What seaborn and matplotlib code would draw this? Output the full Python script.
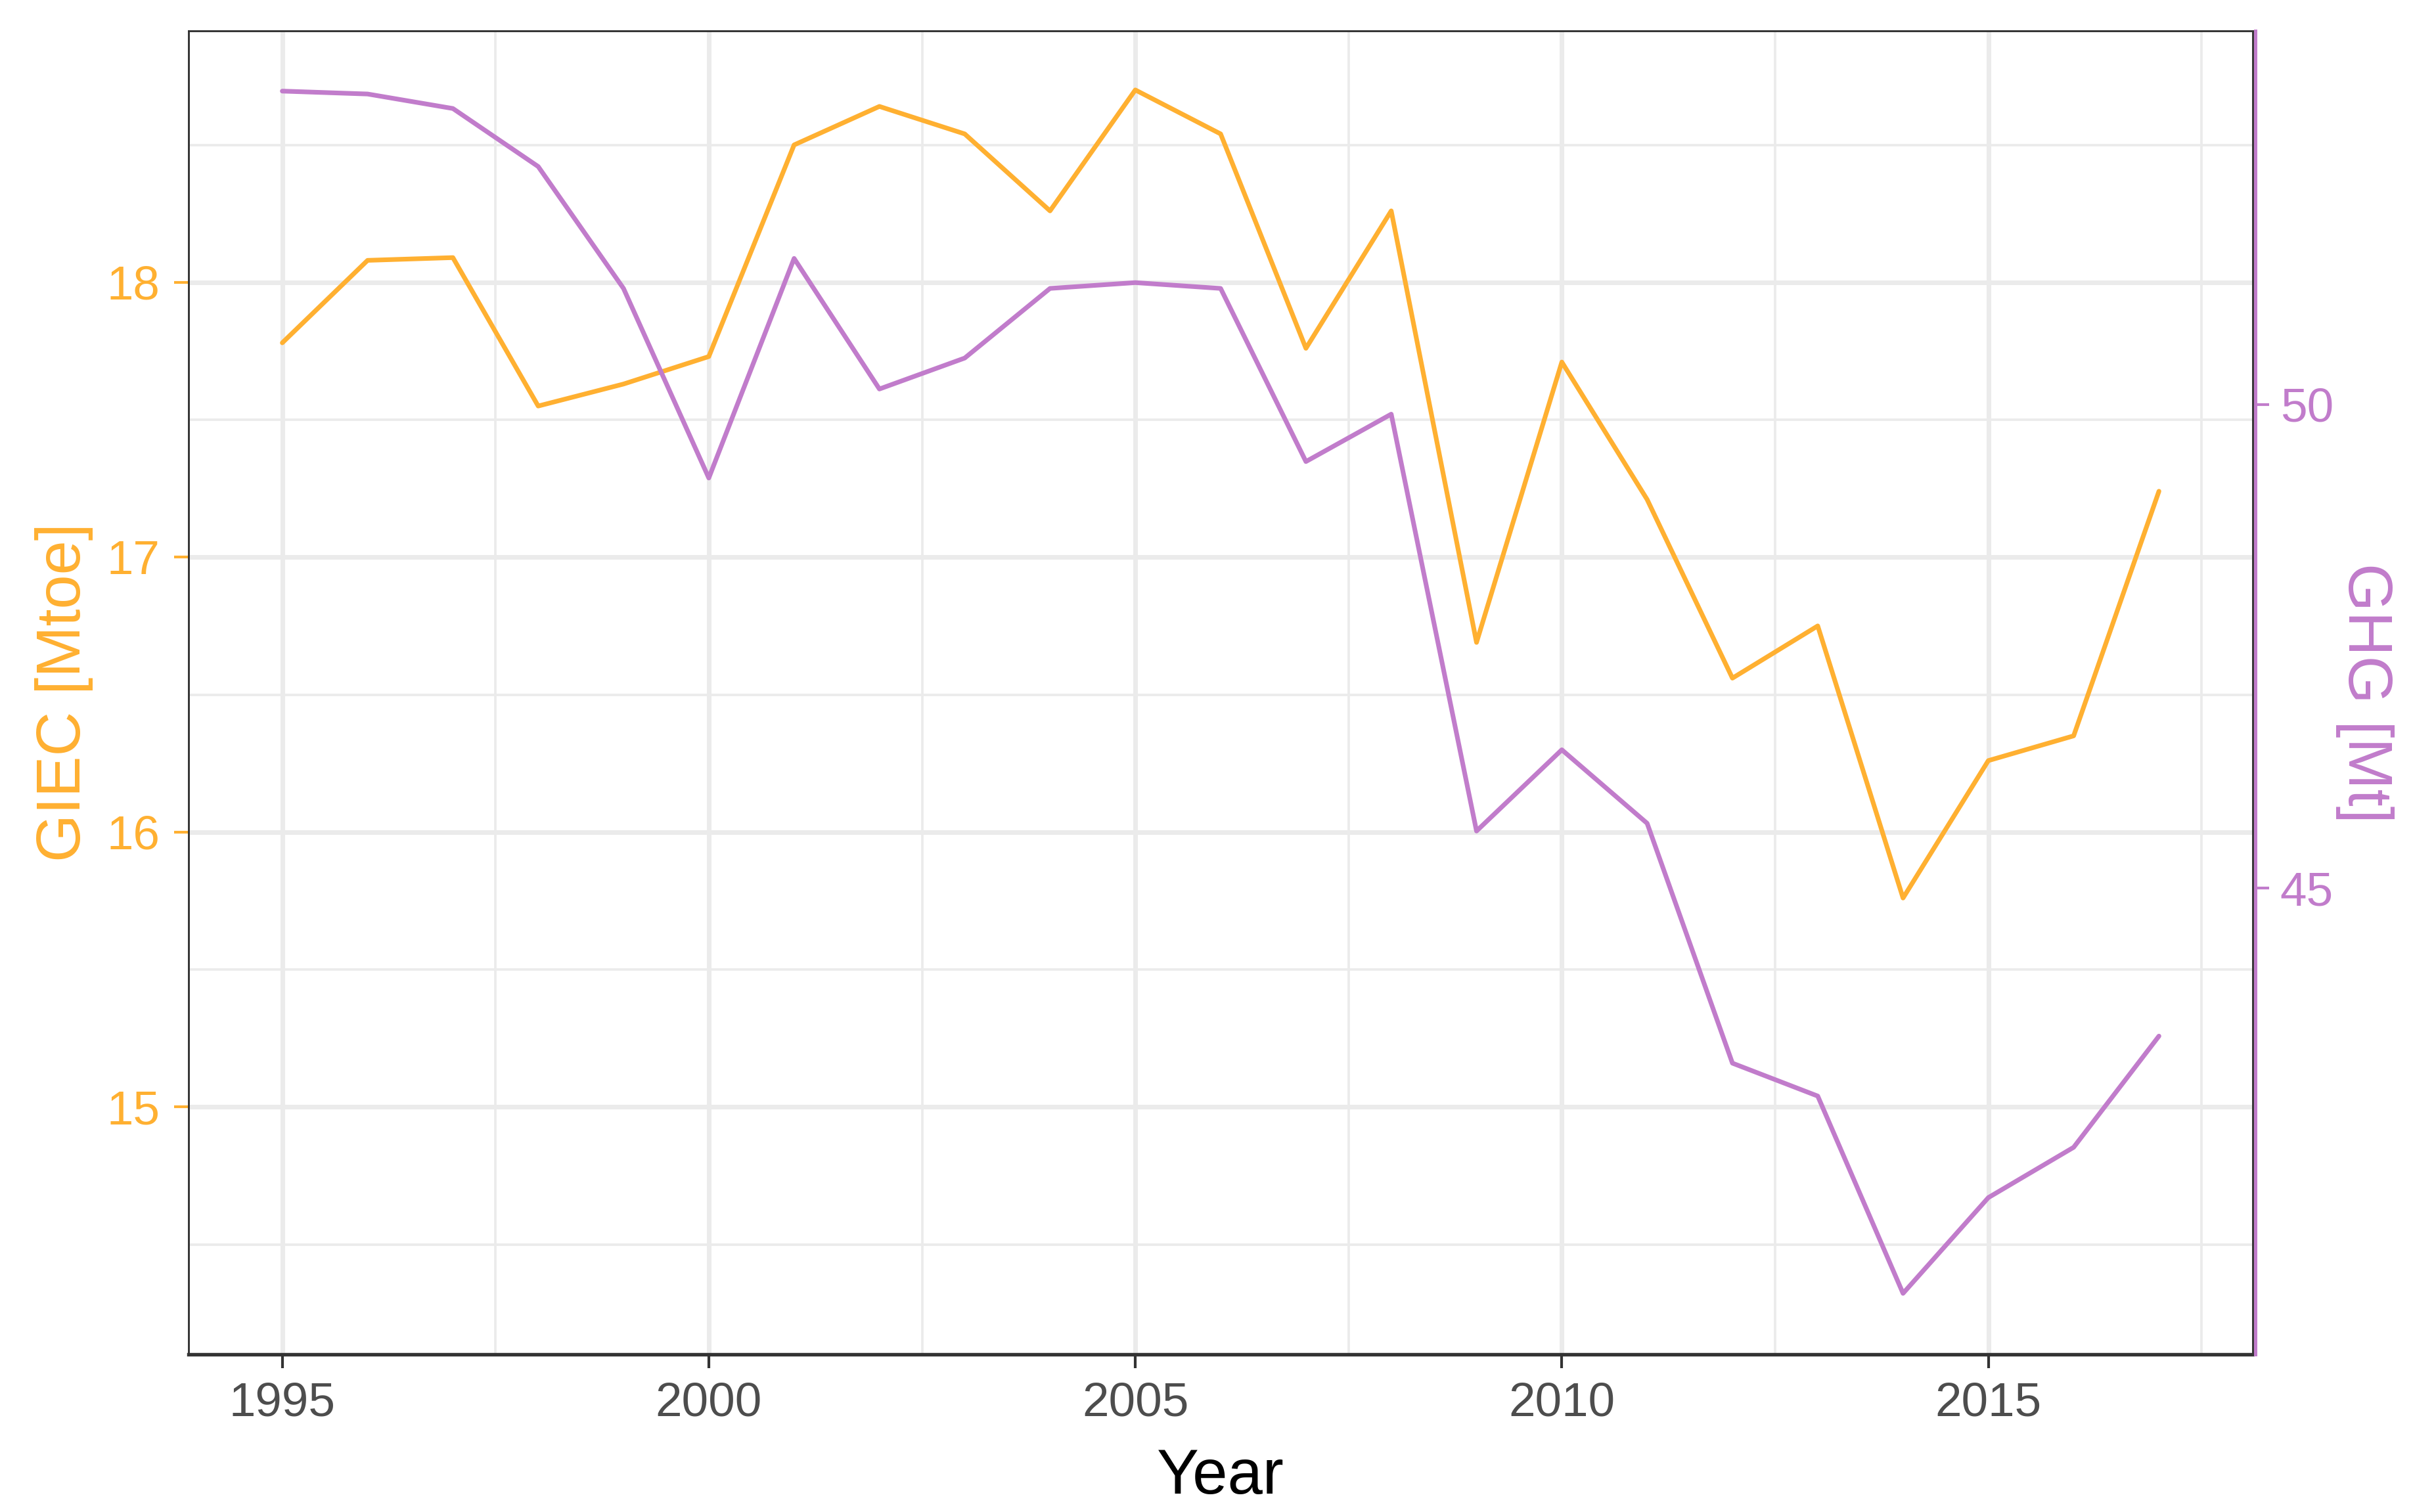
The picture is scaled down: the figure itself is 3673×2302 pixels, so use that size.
import numpy as np
import pandas as pd
import matplotlib
matplotlib.use("Agg")
import matplotlib.pyplot as plt
import seaborn as sns

years = list(range(1995, 2018))
giec = [17.78, 18.08, 18.09, 17.55, 17.63, 17.73, 18.50, 18.64, 18.54, 18.26,
        18.70, 18.54, 17.76, 18.26, 16.69, 17.71, 17.21, 16.56, 16.75, 15.76,
        16.26, 16.35, 17.24]
ghg = [53.24, 53.21, 53.06, 52.46, 51.20, 49.24, 51.51, 50.16, 50.48, 51.20,
       51.26, 51.20, 49.41, 49.90, 45.59, 46.43, 45.67, 43.19, 42.85, 40.81,
       41.80, 42.32, 43.47]

ORANGE = "#FFB031"
PURPLE = "#C17CCB"
GRID = "#EBEBEB"
DARK = "#333333"

df = pd.DataFrame({"Year": years, "GIEC": giec, "GHG": ghg})

sns.set_theme(style="white")
plt.rcParams["font.family"] = ["Liberation Sans", "DejaVu Sans"]

fig = plt.figure(figsize=(3673 / 300, 2302 / 300), dpi=300)
ax = fig.add_axes([0.0781, 0.1043, 0.9336 - 0.0781, 0.9796 - 0.1043])
ax2 = ax.twinx()

# grid like ggplot theme_bw
ax.set_xticks(range(1995, 2016, 5))
ax.set_xticks(np.arange(1997.5, 2018, 5), minor=True)
ax.set_yticks([15, 16, 17, 18])
ax.set_yticks(np.arange(14.5, 19, 1.0), minor=True)
ax.grid(which="major", color=GRID, linewidth=1.7)
ax.grid(which="minor", color=GRID, linewidth=0.9)
ax.set_axisbelow(True)

sns.lineplot(data=df, x="Year", y="GIEC", ax=ax, color=ORANGE, linewidth=1.7)
sns.lineplot(data=df, x="Year", y="GHG", ax=ax2, color=PURPLE, linewidth=1.7)

ax.set_xlim(1993.9, 2018.1)
ax.set_ylim(14.10, 18.915)
ax2.set_ylim(40.18, 53.863)
ax2.set_yticks([45, 50])
ax2.grid(False)

for s in ["left", "top", "right"]:
    ax.spines[s].set_color(DARK)
    ax.spines[s].set_linewidth(0.7)
ax.spines["bottom"].set_color(DARK)
ax.spines["bottom"].set_linewidth(1.3)
for s in ["left", "top", "bottom"]:
    ax2.spines[s].set_visible(False)
ax2.spines["right"].set_color(PURPLE)
ax2.spines["right"].set_linewidth(1.2)
ax2.spines["right"].set_position(("outward", 1))

ax.tick_params(axis="x", which="major", bottom=True, length=5, width=1.0,
               color=DARK, labelcolor="#4D4D4D", labelsize=17.5, pad=5)
ax.tick_params(axis="x", which="minor", bottom=False)
ax.tick_params(axis="y", which="major", left=True, length=5.4, width=1.0,
               color=ORANGE, labelcolor=ORANGE, labelsize=17.5, pad=5)
ax.tick_params(axis="y", which="minor", left=False)
ax2.tick_params(axis="y", which="major", right=True, length=5, width=1.0,
                color=PURPLE, labelcolor=PURPLE, labelsize=17.5, pad=4)

ax.set_xlabel("Year", fontsize=23, color="black", labelpad=8)
ax.set_ylabel("GIEC [Mtoe]", fontsize=22.5, color=ORANGE, labelpad=5)
ax2.set_ylabel("GHG [Mt]", fontsize=22.5, color=PURPLE, rotation=270,
               labelpad=22)

fig.savefig("out.png", dpi=300)
